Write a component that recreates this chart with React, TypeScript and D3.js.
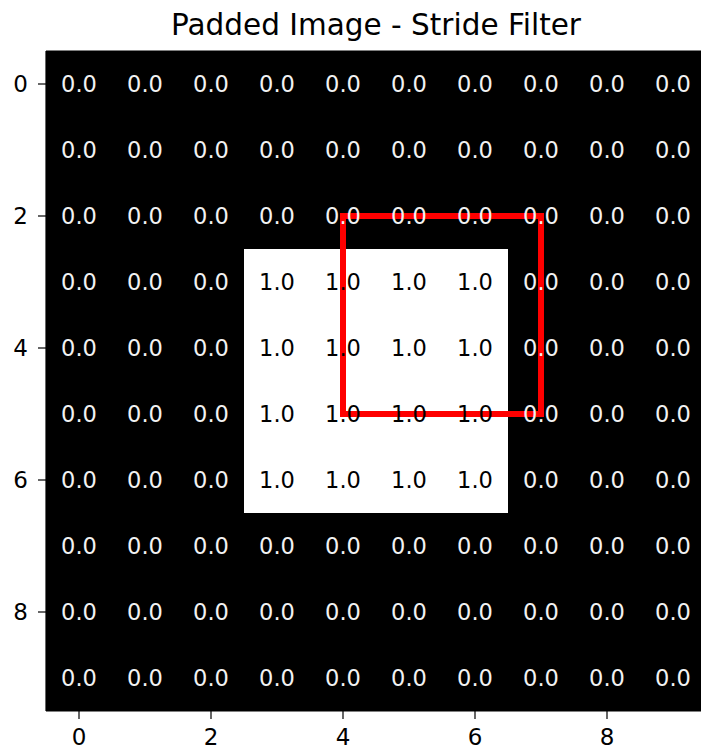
import React from "react";
import * as d3 from "d3";

const title = "Padded Image - Stride Filter";
const rowsIdx = [0, 1, 2, 3, 4, 5, 6, 7, 8, 9];
const colsIdx = [0, 1, 2, 3, 4, 5, 6, 7, 8, 9];
// padded image values (rows of 10)
const gridValues: number[][] = [
  [0, 0, 0, 0, 0, 0, 0, 0, 0, 0],
  [0, 0, 0, 0, 0, 0, 0, 0, 0, 0],
  [0, 0, 0, 0, 0, 0, 0, 0, 0, 0],
  [0, 0, 0, 1, 1, 1, 1, 0, 0, 0],
  [0, 0, 0, 1, 1, 1, 1, 0, 0, 0],
  [0, 0, 0, 1, 1, 1, 1, 0, 0, 0],
  [0, 0, 0, 1, 1, 1, 1, 0, 0, 0],
  [0, 0, 0, 0, 0, 0, 0, 0, 0, 0],
  [0, 0, 0, 0, 0, 0, 0, 0, 0, 0],
  [0, 0, 0, 0, 0, 0, 0, 0, 0, 0],
];
const xTicks = [0, 2, 4, 6, 8];
const yTicks = [0, 2, 4, 6, 8];
// filter window: origin (x, y) and size, in pixel-centre coordinates
const filterX = 4;
const filterY = 2;
const filterSize = 3;

const W = 701;
const H = 752;
const left = 46;
const top = 51;
const cell = 66;
const FONT = "DejaVu Sans, sans-serif";

export default function App() {
  const x = d3.scaleLinear().domain([-0.5, 9.5]).range([left, left + cell * 10]);
  const y = d3.scaleLinear().domain([-0.5, 9.5]).range([top, top + cell * 10]);
  const color = d3.scaleLinear<string>().domain([0, 1]).range(["#000000", "#ffffff"]);
  const bottom = y(9.5);

  return (
    <svg
      width={W}
      height={H}
      style={{ position: "absolute", left: 0, top: 0, background: "#fff" }}
      fontFamily={FONT}
    >
      <rect x={0} y={0} width={W} height={H} fill="#fff" />
      <text x={x(4.5)} y={35} textAnchor="middle" fontSize={29.5} fill="#000">
        {title}
      </text>
      {rowsIdx.map((r) =>
        colsIdx.map((c) => (
          <rect
            key={`c${r}-${c}`}
            x={x(c - 0.5)}
            y={y(r - 0.5)}
            width={x(c + 0.5) - x(c - 0.5)}
            height={y(r + 0.5) - y(r - 0.5)}
            fill={color(gridValues[r][c])}
            shapeRendering="crispEdges"
          />
        ))
      )}
      <rect
        x={x(filterX)}
        y={y(filterY)}
        width={x(filterX + filterSize) - x(filterX)}
        height={y(filterY + filterSize) - y(filterY)}
        fill="none"
        stroke="#ff0000"
        strokeWidth={6}
      />
      {rowsIdx.map((r) =>
        colsIdx.map((c) => (
          <text
            key={`t${r}-${c}`}
            x={x(c)}
            y={y(r)}
            dy="0.36em"
            textAnchor="middle"
            fontSize={22.5}
            fill={gridValues[r][c] > 0.5 ? "#000" : "#f2f2f2"}
          >
            {gridValues[r][c].toFixed(1)}
          </text>
        ))
      )}
      {/* spines */}
      <line x1={x(-0.5)} x2={x(-0.5)} y1={top} y2={bottom} stroke="#000" strokeWidth={1.2} />
      <line x1={x(-0.5)} x2={W + 10} y1={bottom} y2={bottom} stroke="#000" strokeWidth={1.2} />
      <line x1={x(-0.5)} x2={W + 10} y1={top} y2={top} stroke="#000" strokeWidth={1.2} />
      {/* y ticks */}
      {yTicks.map((t) => (
        <g key={`yt${t}`}>
          <line x1={x(-0.5) - 8} x2={x(-0.5)} y1={y(t)} y2={y(t)} stroke="#000" strokeWidth={1.2} />
          <text x={x(-0.5) - 18} y={y(t)} dy="0.36em" textAnchor="end" fontSize={23} fill="#000">
            {t}
          </text>
        </g>
      ))}
      {/* x ticks */}
      {xTicks.map((t) => (
        <g key={`xt${t}`}>
          <line x1={x(t)} x2={x(t)} y1={bottom} y2={bottom + 8} stroke="#000" strokeWidth={1.2} />
          <text x={x(t)} y={bottom + 34} textAnchor="middle" fontSize={23} fill="#000">
            {t}
          </text>
        </g>
      ))}
    </svg>
  );
}
